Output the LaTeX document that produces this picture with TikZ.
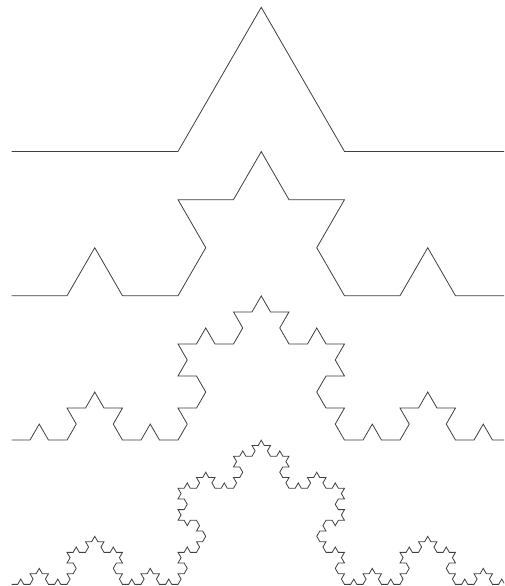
\documentclass[tikz,border=0pt]{standalone}
\usetikzlibrary{lindenmayersystems}
\pgfdeclarelindenmayersystem{Koch}{\rule{F -> F+F--F+F}}
\tikzset{kochline/.style={draw=black!75, line width=0.8pt, line join=miter}}
\begin{document}
\begin{tikzpicture}[x=1pt,y=1pt]
\useasboundingbox[fill=white] (0,0) rectangle (504,586);
\clip (0,0) rectangle (504,586);
\begin{scope}[shift={(11.5,434.5)}]
\draw[kochline, lindenmayer system={Koch, axiom=F, order=1, step=166.5pt, angle=60}] lindenmayer system;
\end{scope}
\begin{scope}[shift={(11.5,290.2)}]
\draw[kochline, lindenmayer system={Koch, axiom=F, order=2, step=55.5pt, angle=60}] lindenmayer system;
\end{scope}
\begin{scope}[shift={(11.5,145.9)}]
\draw[kochline, lindenmayer system={Koch, axiom=F, order=3, step=18.5pt, angle=60}] lindenmayer system;
\end{scope}
\begin{scope}[shift={(11.5,1.6)}]
\draw[kochline, lindenmayer system={Koch, axiom=F, order=4, step=6.1667pt, angle=60}] lindenmayer system;
\end{scope}
\end{tikzpicture}
\end{document}
